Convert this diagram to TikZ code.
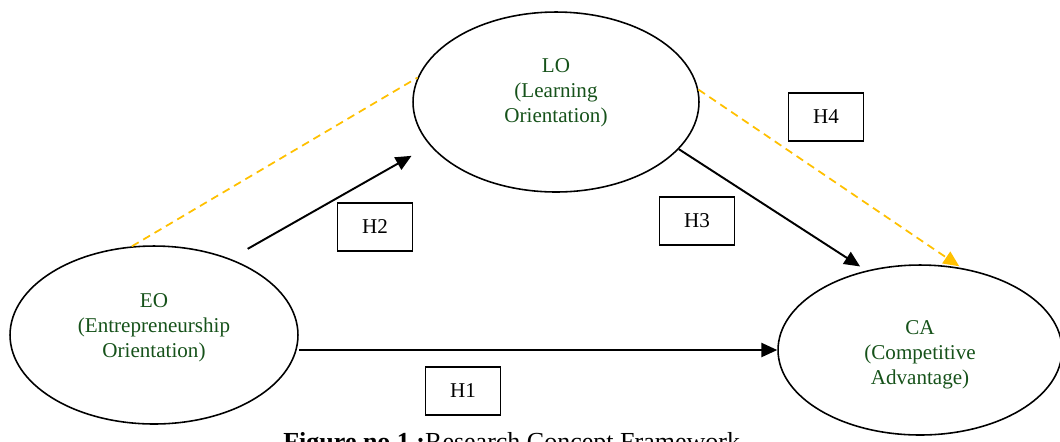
\documentclass[tikz,border=0pt]{standalone}
\usepackage{fontspec}
\setmainfont{Liberation Serif}
\usetikzlibrary{shapes.geometric,arrows.meta}
\definecolor{txtgreen}{RGB}{22,82,26}
\definecolor{gold}{RGB}{255,192,0}

\begin{document}
\begin{tikzpicture}[x=0.02cm, y=-0.02cm,
    concept/.style={draw, ellipse, line width=0.9pt, inner sep=0pt},
    ctext/.style={align=center, text=txtgreen, font=\fontsize{12}{14.2}\selectfont},
    hyp/.style={draw, line width=0.8pt, minimum width=1.5cm, minimum height=0.96cm,
      font=\fontsize{12}{14.2}\selectfont},
    arr/.style={line width=1.1pt, -{Triangle[length=9pt,width=8pt]}},
    gdash/.style={gold, line width=1pt, dash pattern=on 4.5pt off 3pt}]
  \useasboundingbox (0,0) rectangle (1060,441);
  \node[concept, minimum width=5.76cm, minimum height=3.56cm] (EO) at (154,335) {};
  \node[concept, minimum width=5.72cm, minimum height=3.6cm] (LO) at (556,102) {};
  \node[concept, minimum width=5.68cm, minimum height=3.4cm] (CA) at (920,350) {};
  \node[ctext] (EOtxt) at (154,328) {EO\\(Entrepreneurship\\Orientation)};
  \node[ctext] (LOtxt) at (556,93) {LO\\(Learning\\Orientation)};
  \node[ctext] (CAtxt) at (920,355) {CA\\(Competitive\\Advantage)};
  \node[hyp] (H1) at (463,391) {H1};
  \node[hyp] (H2) at (375,227) {H2};
  \node[hyp] (H3) at (697,221) {H3};
  \node[hyp] (H4) at (826,117) {H4};
  \draw[gdash] (EO.104.6) -- (LO.170.3);
  \draw[arr, shorten <=0.4cm, shorten >=0.42cm] (EO.45.3) -- (LO.199.5);
  \draw[arr, shorten >=0.15cm] (LO.-21) -- (CA.124.3);
  \draw[gdash, -{Triangle[length=9pt,width=8pt]}, shorten >=0.06cm] (LO.5.5) -- (CA.63.4);
  \draw[arr] (CA.west -| EO.east) -- (CA.west);
  \node[anchor=base west, inner sep=0pt, font=\fontsize{14.8}{17}\selectfont] (cap) at (283,450)
    {\textbf{Figure no 1 :}Research Concept Framework};
\end{tikzpicture}
\end{document}
